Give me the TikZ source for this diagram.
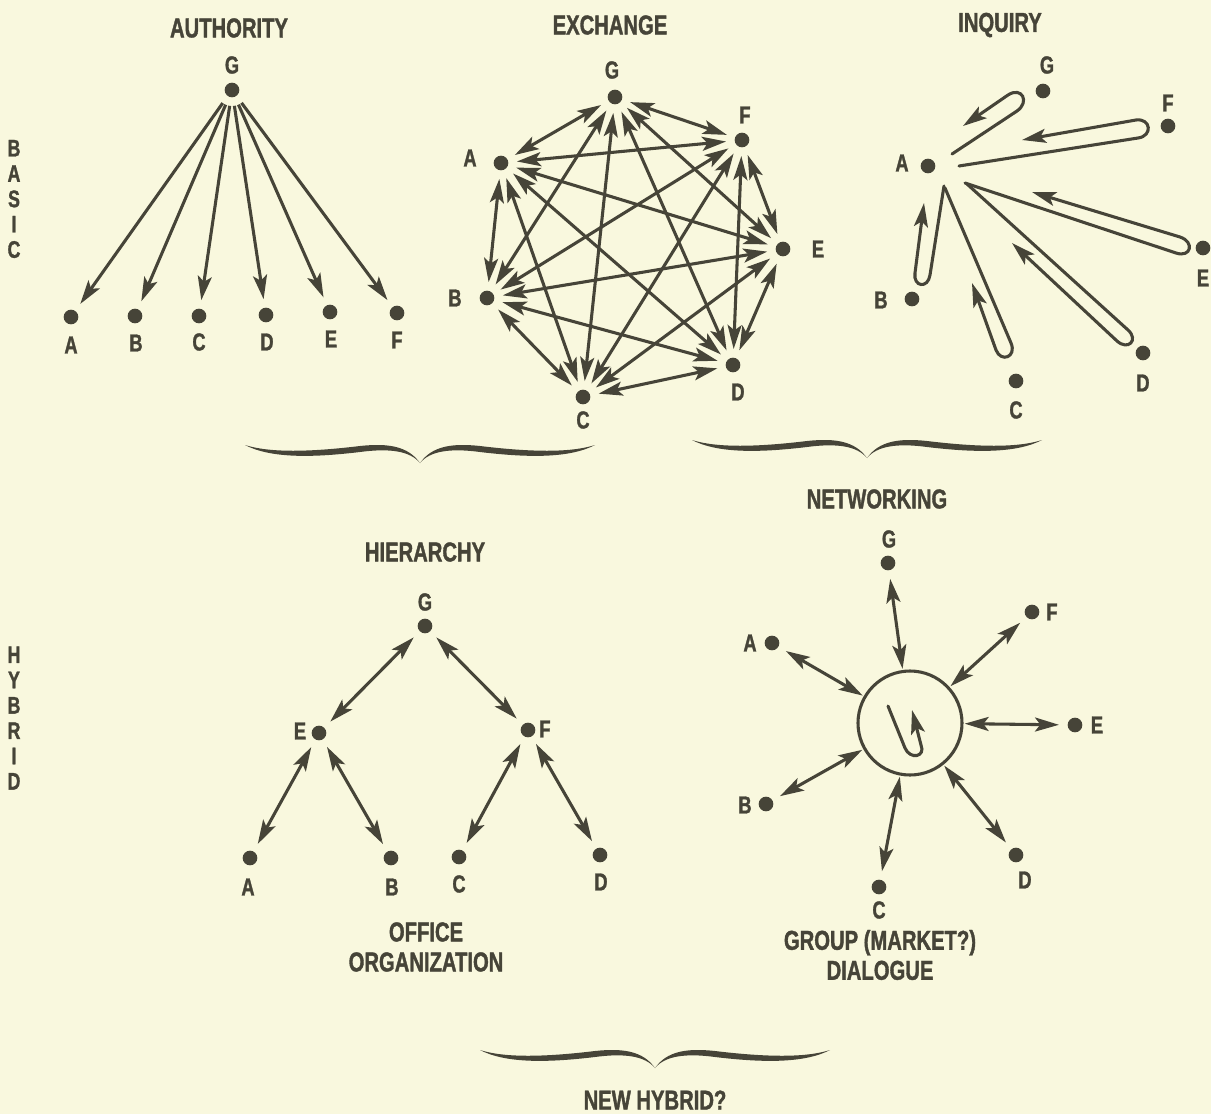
\documentclass[tikz,border=0pt]{standalone}
\usepackage{fontspec}
\setmainfont{Liberation Sans}[FakeStretch=0.74, BoldFeatures={FakeBold=1.3}]
\usetikzlibrary{arrows.meta}

\definecolor{ink}{RGB}{70,68,56}
\definecolor{paper}{RGB}{249,248,222}

\tikzset{every picture/.style={line width=0.75pt}}
\tikzset{
  dot/.style={circle, fill=ink, draw=none, inner sep=0pt, minimum size=11pt, outer sep=6.5pt},
  lbl/.style={font=\bfseries\fontsize{18.5}{19}\selectfont, text=ink, inner sep=0pt},
  ttl/.style={font=\bfseries\fontsize{20.5}{22.5}\selectfont, text=ink, inner sep=0pt, align=center},
  side/.style={font=\bfseries\fontsize{18}{19}\selectfont, text=ink, inner sep=0pt, align=center},
  link/.style={draw=ink, line width=2.3pt, >={Stealth[length=18pt,width=10.5pt,inset=4pt]}},
  loopline/.style={link, line cap=round, ->},
  pics/curly/.style={code={
    \fill[ink] (-175,18) .. controls (-150,5) and (-110,5) .. (-60,11) .. controls (-30,15) and (-10,12) .. (0,0) .. controls (-12,17) and (-32,20) .. (-60,17) .. controls (-110,11) and (-150,10) .. (-175,18) -- cycle;
    \fill[ink] (175,18) .. controls (150,5) and (110,5) .. (60,11) .. controls (30,15) and (10,12) .. (0,0) .. controls (12,17) and (32,20) .. (60,17) .. controls (110,11) and (150,10) .. (175,18) -- cycle;
  }}
}

\begin{document}
\begin{tikzpicture}[x=0.75pt,y=0.75pt,yscale=-1,xscale=1]
\path[use as bounding box, fill=paper] (0,0) rectangle (1211,1114);

% Side labels
\node[side] (basic) at (14,199) {B\\A\\S\\I\\C};
\node[side] (hybrid) at (14,718) {H\\Y\\B\\R\\I\\D};

%%% AUTHORITY
\node[ttl] (authTitle) at (229,28) {AUTHORITY};
\node[dot] (aG) at (232,90) {};
\node[dot] (aA) at (71,317) {};
\node[dot] (aB) at (135,316) {};
\node[dot] (aC) at (199,316) {};
\node[dot] (aD) at (266,315) {};
\node[dot] (aE) at (330,312) {};
\node[dot] (aF) at (397,313) {};
% Text Node
\node[lbl] (aGl) at (232,65) {G};
\node[lbl] (aAl) at (71,345) {A};
\node[lbl] (aBl) at (136,343) {B};
\node[lbl] (aCl) at (199,342) {C};
\node[lbl] (aDl) at (267,342) {D};
\node[lbl] (aEl) at (331,339) {E};
\node[lbl] (aFl) at (397,340) {F};
% Arrows
\draw[link,->] (aG) -- (aA);
\draw[link,->] (aG) -- (aB);
\draw[link,->] (aG) -- (aC);
\draw[link,->] (aG) -- (aD);
\draw[link,->] (aG) -- (aE);
\draw[link,->] (aG) -- (aF);

%%% EXCHANGE
\node[ttl] (exchTitle) at (610,25) {EXCHANGE};
\node[dot] (xG) at (615,97) {};
\node[dot] (xF) at (742,140) {};
\node[dot] (xA) at (501,163) {};
\node[dot] (xE) at (783,249) {};
\node[dot] (xB) at (487,298) {};
\node[dot] (xD) at (733,365) {};
\node[dot] (xC) at (583,397) {};
% Text Node
\node[lbl] (xGl) at (612,70) {G};
\node[lbl] (xFl) at (745,115) {F};
\node[lbl] (xAl) at (470,158) {A};
\node[lbl] (xEl) at (818,249) {E};
\node[lbl] (xBl) at (455,298) {B};
\node[lbl] (xDl) at (738,392) {D};
\node[lbl] (xCl) at (583,420) {C};
% Arrows
\draw[link,<->] (xG) -- (xF);
\draw[link,<->] (xG) -- (xA);
\draw[link,<->] (xG) -- (xE);
\draw[link,<->] (xG) -- (xB);
\draw[link,<->] (xG) -- (xD);
\draw[link,<->] (xG) -- (xC);
\draw[link,<->] (xF) -- (xA);
\draw[link,<->] (xF) -- (xE);
\draw[link,<->] (xF) -- (xB);
\draw[link,<->] (xF) -- (xD);
\draw[link,<->] (xF) -- (xC);
\draw[link,<->] (xA) -- (xE);
\draw[link,<->] (xA) -- (xB);
\draw[link,<->] (xA) -- (xD);
\draw[link,<->] (xA) -- (xC);
\draw[link,<->] (xE) -- (xB);
\draw[link,<->] (xE) -- (xD);
\draw[link,<->] (xE) -- (xC);
\draw[link,<->] (xB) -- (xD);
\draw[link,<->] (xB) -- (xC);
\draw[link,<->] (xD) -- (xC);

%%% INQUIRY
\node[ttl] (inqTitle) at (1000,25) {INQUIRY};
\node[dot] (qG) at (1043,91) {};
\node[dot] (qF) at (1168,126) {};
\node[dot] (qA) at (928,166) {};
\node[dot] (qE) at (1203,248) {};
\node[dot] (qB) at (912,299) {};
\node[dot] (qD) at (1143,353) {};
\node[dot] (qC) at (1016,381) {};
% Text Node
\node[lbl] (qGl) at (1047,65) {G};
\node[lbl] (qFl) at (1168,103) {F};
\node[lbl] (qAl) at (902,163) {A};
\node[lbl] (qEl) at (1203,278) {E};
\node[lbl] (qBl) at (881,300) {B};
\node[lbl] (qDl) at (1143,383) {D};
\node[lbl] (qCl) at (1016,410) {C};
%Curve Lines (hairpins back to A)
\draw[loopline] (952,154) -- (1017,111) .. controls (1030,102) and (1022,86) .. (1008,95) -- (963,126);
\draw[loopline] (959,166) -- (1138,138) .. controls (1153,136) and (1151,118) .. (1136,120) -- (1022,140);
\draw[loopline] (965,183) -- (1176,253) .. controls (1191,258) and (1195,242) .. (1180,237) -- (1032,192);
\draw[loopline] (967,184) -- (1128,330) .. controls (1139,340) and (1128,351) .. (1117,341) -- (1012,243);
\draw[loopline] (945,188) -- (1011,343) .. controls (1017,357) and (1001,363) .. (996,350) -- (972,283);
\draw[loopline] (944,186) -- (930,275) .. controls (928,289) and (913,287) .. (915,273) -- (924,203);

% Braces
\pic (braceL) at (420,463) {curly};
\pic (braceR) at (867,458) {curly};

%%% HIERARCHY
\node[ttl] (hierTitle) at (425,552) {HIERARCHY};
\node[dot] (hG) at (425,626) {};
\node[dot] (hE) at (319,733) {};
\node[dot] (hF) at (528,730) {};
\node[dot] (hA) at (250,858) {};
\node[dot] (hB) at (391,858) {};
\node[dot] (hC) at (459,857) {};
\node[dot] (hD) at (600,855) {};
% Text Node
\node[lbl] (hGl) at (425,602) {G};
\node[lbl] (hEl) at (300,731) {E};
\node[lbl] (hFl) at (545,729) {F};
\node[lbl] (hAl) at (248,887) {A};
\node[lbl] (hBl) at (392,887) {B};
\node[lbl] (hCl) at (459,884) {C};
\node[lbl] (hDl) at (601,882) {D};
\node[ttl] (officeTxt) at (426,947) {OFFICE\\ORGANIZATION};
% Arrows
\draw[link,<->] (hG) -- (hE);
\draw[link,<->] (hG) -- (hF);
\draw[link,<->] (hE) -- (hA);
\draw[link,<->] (hE) -- (hB);
\draw[link,<->] (hF) -- (hC);
\draw[link,<->] (hF) -- (hD);

%%% NETWORKING
\node[ttl] (netTitle) at (877,499) {NETWORKING};
%Shape: Circle
\node[circle, draw=ink, line width=2.3pt, minimum size=78pt, inner sep=0pt, outer sep=2pt] (hub) at (910,723) {};
\node[dot] (nG) at (888,563) {};
\node[dot] (nA) at (772,643) {};
\node[dot] (nF) at (1032,612) {};
\node[dot] (nE) at (1075,725) {};
\node[dot] (nB) at (766,804) {};
\node[dot] (nC) at (879,887) {};
\node[dot] (nD) at (1016,855) {};
% Text Node
\node[lbl] (nGl) at (889,539) {G};
\node[lbl] (nAl) at (750,643) {A};
\node[lbl] (nFl) at (1052,612) {F};
\node[lbl] (nEl) at (1097,725) {E};
\node[lbl] (nBl) at (745,805) {B};
\node[lbl] (nCl) at (879,910) {C};
\node[lbl] (nDl) at (1025,880) {D};
\node[ttl] (groupTxt) at (880,955) {GROUP (MARKET?)\\DIALOGUE};
% Arrows
\draw[link,<->] (nG) -- (hub);
\draw[link,<->] (nA) -- (hub);
\draw[link,<->] (nF) -- (hub);
\draw[link,<->] (nE) -- (hub);
\draw[link,<->] (nB) -- (hub);
\draw[link,<->] (nC) -- (hub);
\draw[link,<->] (nD) -- (hub);
%Curve Lines (inside the group)
\draw[loopline] (888,706) -- (905,748) .. controls (910,760) and (926,757) .. (921,745) -- (912,710);

% Brace
\pic (braceB) at (655,1068) {curly};
\node[ttl] (newTxt) at (655,1100) {NEW HYBRID?};

\end{tikzpicture}
\end{document}
